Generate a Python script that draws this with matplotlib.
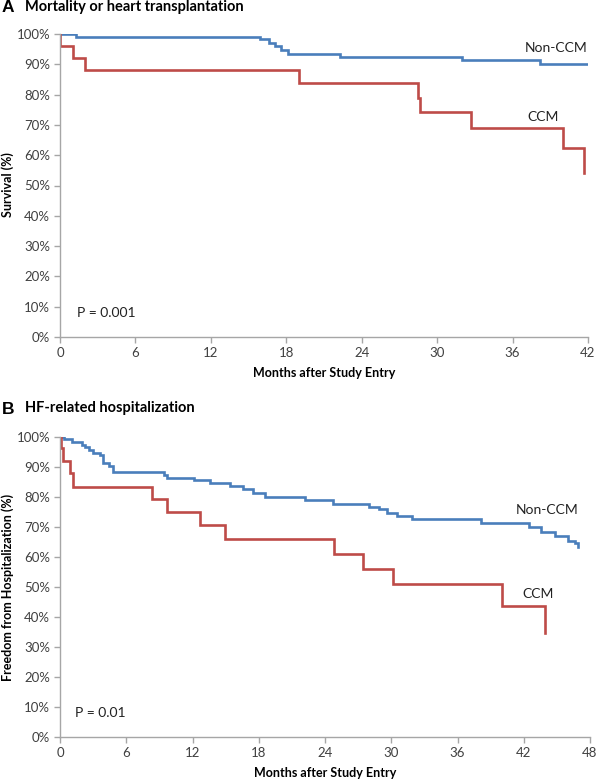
import matplotlib.pyplot as plt
from matplotlib.ticker import FuncFormatter, MultipleLocator

# ========================================================
# DATA (months, survival %)

A_NON_T = [0, 1.3, 15.9, 16.6, 17.1, 17.6, 18.1, 22.3, 32.0, 38.2, 42.0]
A_NON_S = [100, 99.1, 98.2, 97.1, 96.0, 94.8, 93.5, 92.5, 91.4, 90.1, 90.1]

A_CCM_T = [0, 0, 1.0, 2.0, 19.0, 28.5, 28.6, 32.7, 40.0, 41.7]
A_CCM_S = [100, 96.1, 92.2, 88.1, 83.9, 79.0, 74.4, 69.1, 62.3, 54.2]

B_NON_T = [0, 0.4, 1.1, 2.0, 2.3, 2.6, 3.0, 3.6, 3.9, 4.4, 4.8,
           9.4, 9.7, 12.1, 13.6, 15.4, 16.6, 17.5, 18.6,
           22.2, 24.7, 28.0, 28.9, 29.6, 30.5, 31.9,
           38.1, 42.5, 43.6, 44.8, 46.0, 46.6, 46.9]
B_NON_S = [100, 99.4, 98.4, 97.5, 96.6, 95.7, 94.8, 94.0, 91.4, 90.3, 88.3,
           87.4, 86.5, 85.6, 84.7, 83.8, 82.8, 81.2, 80.1,
           79.0, 77.8, 76.8, 75.9, 74.8, 73.7, 72.6,
           71.2, 70.1, 68.5, 66.9, 65.5, 64.8, 63.3]

B_CCM_T = [0, 0.1, 0.3, 0.9, 1.2, 8.3, 9.7, 12.7, 14.9, 24.8, 27.4, 30.2, 40.0, 43.9]
B_CCM_S = [100, 96.2, 92.1, 87.9, 83.4, 79.2, 75.1, 70.7, 66.0, 61.0, 55.9, 51.0, 43.7, 34.8]

BLUE = "#4a7ebb"
RED = "#be4b48"
GRAY = "#a6a6a6"
FONT = "Lato"

W, H = 598, 781


def fx(px):
    return px / W


def fy(py):
    return 1 - py / H


def draw_panel(ax, non_t, non_s, ccm_t, ccm_s, xmax, non_xy, ccm_xy, ptxt, p_xy):
    ax.step(non_t, non_s, where="post", color=BLUE, lw=1.9, solid_joinstyle="miter")
    ax.step(ccm_t, ccm_s, where="post", color=RED, lw=1.9, solid_joinstyle="miter")
    ax.set_xlim(0, xmax)
    ax.set_ylim(0, 100)
    ax.xaxis.set_major_locator(MultipleLocator(6))
    ax.yaxis.set_major_locator(MultipleLocator(10))
    ax.yaxis.set_major_formatter(FuncFormatter(lambda v, _: f"{v:.0f}%"))
    for s in ["top", "right"]:
        ax.spines[s].set_visible(False)
    for s in ["left", "bottom"]:
        ax.spines[s].set_color(GRAY)
        ax.spines[s].set_linewidth(1.0)
    ax.tick_params(direction="out", length=4, width=1, color=GRAY,
                   labelsize=9.5, labelcolor="#404040", pad=3)
    for lab in ax.get_xticklabels() + ax.get_yticklabels():
        lab.set_fontfamily(FONT)
    ax.text(non_xy[0], non_xy[1], "Non-CCM", ha="right", va="center",
            fontsize=10, family=FONT, color="#222222")
    ax.text(ccm_xy[0], ccm_xy[1], "CCM", ha="center", va="center",
            fontsize=10, family=FONT, color="#222222")
    ax.text(p_xy[0], p_xy[1], ptxt, ha="left", va="center",
            fontsize=10, family=FONT, color="#222222")


fig = plt.figure(figsize=(W / 100, H / 100), dpi=100)

# panel A: x 60..588, y 34..337 px
ax_a = fig.add_axes([fx(60), fy(337), fx(588) - fx(60), fy(34) - fy(337)])
draw_panel(ax_a, A_NON_T, A_NON_S, A_CCM_T, A_CCM_S, 42,
           (42.0, 95.4), (38.4, 72.7), "P = 0.001", (1.35, 7.8))

# panel B: x 60..590, y 437..737 px
ax_b = fig.add_axes([fx(60), fy(737), fx(590) - fx(60), fy(437) - fy(737)])
draw_panel(ax_b, B_NON_T, B_NON_S, B_CCM_T, B_CCM_S, 48,
           (47.0, 75.7), (43.3, 47.7), "P = 0.01", (1.36, 8.1))

# titles
fig.text(fx(2), fy(8), "A", fontsize=12.5, fontweight="bold",
         family="Liberation Sans", va="center", ha="left")
fig.text(fx(25), fy(7), "Mortality or heart transplantation", fontsize=10.5,
         fontweight="bold", family=FONT, va="center", ha="left")
fig.text(fx(2), fy(409), "B", fontsize=12.5, fontweight="bold",
         family="Liberation Sans", va="center", ha="left")
fig.text(fx(25), fy(408), "HF-related hospitalization", fontsize=10.5,
         fontweight="bold", family=FONT, va="center", ha="left")

# axis labels
fig.text(fx(8), fy(185), "Survival (%)", rotation=90, fontsize=9,
         fontweight="bold", family=FONT, va="center", ha="center")
fig.text(fx(8), fy(587), "Freedom from Hospitalization (%)", rotation=90,
         fontsize=9, fontweight="bold", family=FONT, va="center", ha="center")
fig.text(fx(324), fy(373), "Months after Study Entry", fontsize=9,
         fontweight="bold", family=FONT, va="center", ha="center")
fig.text(fx(325), fy(773), "Months after Study Entry", fontsize=9,
         fontweight="bold", family=FONT, va="center", ha="center")

fig.savefig("out.png", dpi=100)
